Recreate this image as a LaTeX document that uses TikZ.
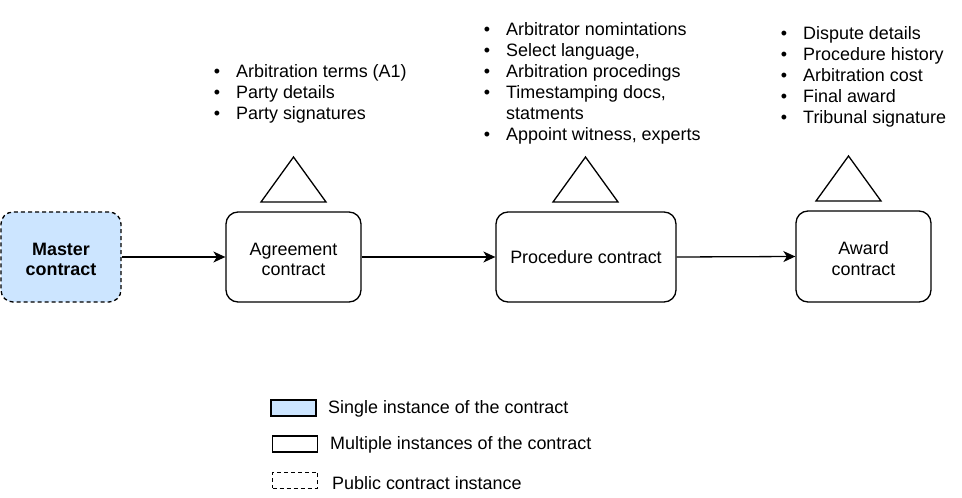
\documentclass[tikz,border=0pt]{standalone}
\usepackage{fontspec}
\setmainfont{Liberation Sans}
\usetikzlibrary{arrows.meta}
\definecolor{mblue}{HTML}{CCE5FF}
\tikzset{
  box/.style={draw, line width=1.3bp, rounded corners=12bp, align=center,
    font=\fontsize{18}{21}\selectfont, inner sep=0pt},
  twoline/.style={text height=38bp, text depth=0bp},
  pubbox/.style={box, dash pattern=on 4bp off 3bp, fill=mblue, font=\fontsize{18}{21}\selectfont\bfseries},
  conn/.style={line width=1.3bp, -{Stealth[length=12bp,width=11bp,inset=3.5bp]}},
  tri/.style={line width=1.3bp, line join=miter},
  txt/.style={font=\fontsize{18}{21}\selectfont, inner sep=0pt, anchor=base west},
  bul/.style={font=\fontsize{18}{21}\selectfont, inner sep=0pt, anchor=base},
  legbox/.style={draw, line width=1.3bp, minimum width=45bp, minimum height=16bp, inner sep=0pt},
}
\begin{document}
\begin{tikzpicture}[x=1bp,y=-1bp]
\useasboundingbox (0,0) rectangle (962,498);

% main boxes
\node[pubbox, twoline, minimum width=120bp, minimum height=90bp] (master) at (61,257) {Master\\contract};
\node[box, twoline, minimum width=135bp, minimum height=90bp] (agree) at (293.5,257) {Agreement\\contract};
\node[box, minimum width=180bp, minimum height=90bp] (proc) at (586,257) {Procedure contract};
\node[box, twoline, minimum width=135bp, minimum height=91bp] (award) at (863.5,256.5) {Award\\contract};

% connectors
\draw[conn] (master.east) -- (agree.west);
\draw[conn] (agree.east) -- (proc.west);
\draw[conn] (proc.east) -- (award.west);

% triangles
\draw[tri] (261,202) -- (293.5,157) -- (326,202) -- cycle;
\draw[tri] (553,202) -- (585.5,157) -- (618,202) -- cycle;
\draw[tri] (816,201) -- (848.5,156) -- (881,201) -- cycle;

% agreement list
\node[bul] (ab1) at (217,78) {•};
\node[txt] (at1) at (236,78) {Arbitration terms (A1)};
\node[bul] (ab2) at (217,99) {•};
\node[txt] (at2) at (236,99) {Party details};
\node[bul] (ab3) at (217,120) {•};
\node[txt] (at3) at (236,120) {Party signatures};

% procedure list
\node[bul] (pb1) at (487,35.5) {•};
\node[txt] (pt1) at (506,35.5) {Arbitrator nomintations};
\node[bul] (pb2) at (487,56.5) {•};
\node[txt] (pt2) at (506,56.5) {Select language,};
\node[bul] (pb3) at (487,77.5) {•};
\node[txt] (pt3) at (506,77.5) {Arbitration procedings};
\node[bul] (pb4) at (487,98.5) {•};
\node[txt] (pt4) at (506,98.5) {Timestamping docs,};
\node[txt] (pt4b) at (506,119.5) {statments};
\node[bul] (pb5) at (487,140.5) {•};
\node[txt] (pt5) at (506,140.5) {Appoint witness, experts};

% award list
\node[bul] (wb1) at (784,39.5) {•};
\node[txt] (wt1) at (803,39.5) {Dispute details};
\node[bul] (wb2) at (784,60.5) {•};
\node[txt] (wt2) at (803,60.5) {Procedure history};
\node[bul] (wb3) at (784,81.5) {•};
\node[txt] (wt3) at (803,81.5) {Arbitration cost};
\node[bul] (wb4) at (784,102.5) {•};
\node[txt] (wt4) at (803,102.5) {Final award};
\node[bul] (wb5) at (784,123.5) {•};
\node[txt] (wt5) at (803,123.5) {Tribunal signature};

% legend
\node[legbox, fill=mblue] (l1) at (293.5,408) {};
\node[txt] (l1t) at (328,413.5) {Single instance of the contract};
\node[legbox] (l2) at (295,444) {};
\node[txt] (l2t) at (330,449.5) {Multiple instances of the contract};
\node[legbox, line width=1bp, dash pattern=on 4bp off 3bp] (l3) at (295,480) {};
\node[txt] (l3t) at (332,489.5) {Public contract instance};
\end{tikzpicture}
\end{document}
